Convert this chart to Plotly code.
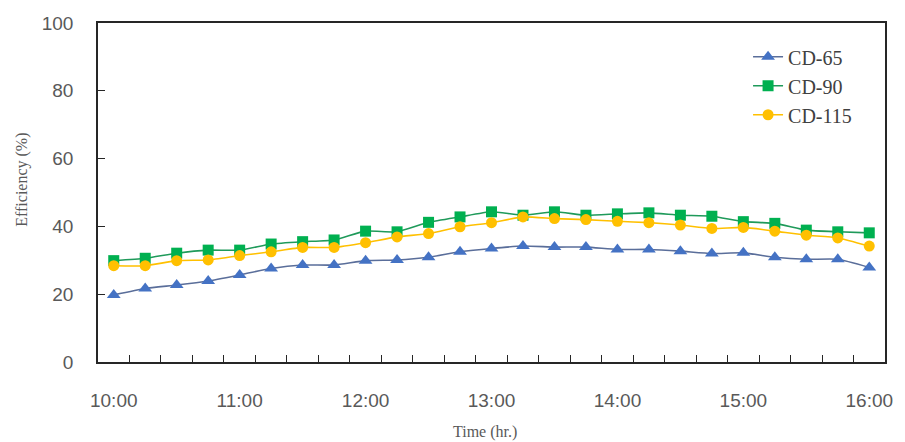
import plotly.graph_objects as go

times = ["10:00", "10:15", "10:30", "10:45", "11:00", "11:15", "11:30", "11:45",
         "12:00", "12:15", "12:30", "12:45", "13:00", "13:15", "13:30", "13:45",
         "14:00", "14:15", "14:30", "14:45", "15:00", "15:15", "15:30", "15:45", "16:00"]

cd65 = [19.8, 21.7, 22.7, 23.9, 25.7, 27.6, 28.6, 28.6, 29.9, 30.1, 30.9, 32.5, 33.5,
        34.2, 33.9, 33.9, 33.2, 33.2, 32.7, 32.0, 32.2, 30.9, 30.3, 30.3, 27.9]
cd90 = [29.9, 30.6, 32.1, 33.0, 33.0, 34.8, 35.5, 36.0, 38.6, 38.4, 41.2, 42.8, 44.3,
        43.3, 44.3, 43.3, 43.7, 44.0, 43.3, 43.0, 41.4, 40.9, 38.9, 38.4, 38.1]
cd115 = [28.4, 28.4, 29.9, 30.1, 31.4, 32.5, 33.8, 33.8, 35.2, 36.9, 37.9, 39.9, 41.1,
         42.8, 42.3, 42.0, 41.5, 41.1, 40.4, 39.4, 39.7, 38.6, 37.4, 36.6, 34.2]

y_ticks = [0, 20, 40, 60, 80, 100]

x = list(range(len(times)))
label_idx = [i for i, t in enumerate(times) if t.endswith(":00")]
minor_vals = [i + 0.5 for i in range(len(times) - 1)]

fig = go.Figure()
series = [
    ("CD-65", cd65, "#4472C4", "#5A6E9A", "triangle-up", 12),
    ("CD-90", cd90, "#00B050", "#1F9A5A", "square", 11),
    ("CD-115", cd115, "#FFC000", "#FFC000", "circle", 11),
]
for name, vals, mcol, lcol, sym, size in series:
    fig.add_trace(go.Scatter(
        x=x, y=vals, name=name, mode="lines+markers",
        line=dict(color=lcol, width=1.6, shape="spline", smoothing=0.5),
        marker=dict(symbol=sym, size=size, color=mcol, line=dict(width=0)),
    ))

axis_line = "#262626"
fig.update_layout(
    width=905, height=442,
    margin=dict(l=98, r=12, t=23, b=80),
    paper_bgcolor="white", plot_bgcolor="white",
    showlegend=True,
    legend=dict(x=0.826, y=0.958, xanchor="left", yanchor="top",
                font=dict(family="Liberation Serif", size=20, color="#404040"),
                bgcolor="rgba(0,0,0,0)", tracegroupgap=0),
    xaxis=dict(
        range=[-0.5, len(times) - 0.5],
        tickmode="array", tickvals=label_idx, ticktext=[times[i] for i in label_idx],
        ticks="", showgrid=False, zeroline=False,
        showline=True, linecolor=axis_line, linewidth=1.5, mirror=True,
        tickfont=dict(family="Liberation Sans", size=19, color="#595959"),
        ticklabelstandoff=20,
        minor=dict(tickmode="array", tickvals=minor_vals, ticks="inside",
                   ticklen=7, tickcolor=axis_line, tickwidth=1.2, showgrid=False),
    ),
    yaxis=dict(
        range=[0, 100], tickmode="array", tickvals=y_ticks,
        ticks="inside", ticklen=7, tickcolor=axis_line, tickwidth=1.2,
        showgrid=False, zeroline=False,
        showline=True, linecolor=axis_line, linewidth=1.5, mirror=True,
        tickfont=dict(family="Liberation Sans", size=19, color="#595959"),
        ticklabelstandoff=19,
    ),
    annotations=[
        dict(text="Efficiency (%)", xref="paper", yref="paper",
             x=(21 - 98) / 795, y=1 - (180 - 22.7) / 339.6, textangle=-90,
             showarrow=False, xanchor="center", yanchor="middle",
             font=dict(family="Liberation Serif", size=16, color="#595959")),
        dict(text="Time (hr.)", xref="paper", yref="paper",
             x=(489 - 98) / 795, y=-(432 - 362.3) / 339.6,
             showarrow=False, xanchor="center", yanchor="middle",
             font=dict(family="Liberation Serif", size=16, color="#595959")),
    ],
)

fig.write_html("out.html", config={"displayModeBar": False},
               post_script="document.body.style.margin='0';document.body.style.overflow='hidden';")
